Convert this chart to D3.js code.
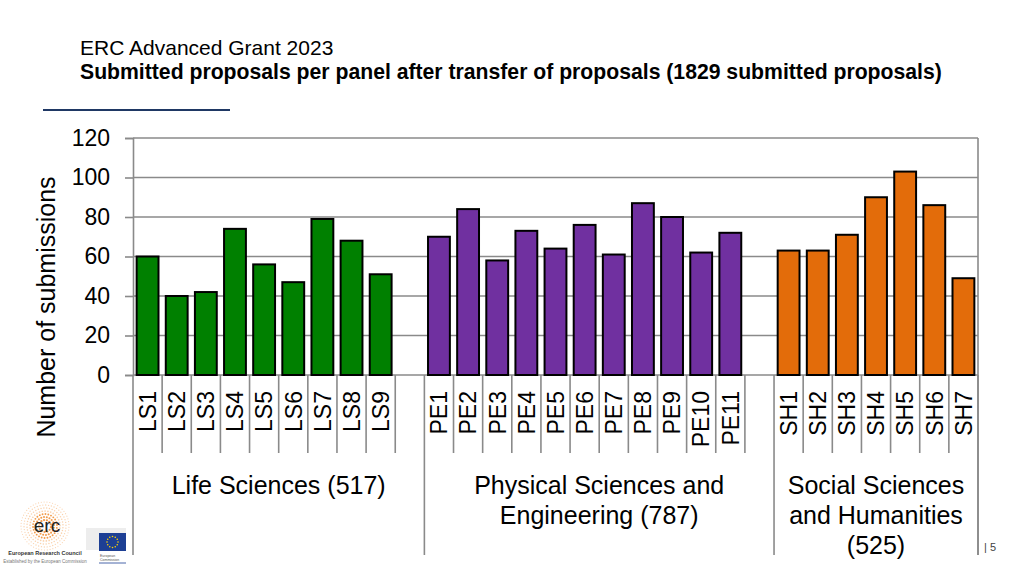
<!DOCTYPE html>
<html>
<head>
<meta charset="utf-8">
<script src="https://cdn.jsdelivr.net/npm/d3@7"></script>
<style>
  html, body { margin: 0; padding: 0; background: #fff; }
  svg { display: block; font-family: "Liberation Sans", Arial, sans-serif; }
</style>
</head>
<body>
<svg id="chart" width="1024" height="576"></svg>
<script>
// ---- Data ----
const lsPanels = ["LS1","LS2","LS3","LS4","LS5","LS6","LS7","LS8","LS9"];
const lsValues = [60, 40, 42, 74, 56, 47, 79, 68, 51];
const pePanels = ["PE1","PE2","PE3","PE4","PE5","PE6","PE7","PE8","PE9","PE10","PE11"];
const peValues = [70, 84, 58, 73, 64, 76, 61, 87, 80, 62, 72];
const shPanels = ["SH1","SH2","SH3","SH4","SH5","SH6","SH7"];
const shValues = [63, 63, 71, 90, 103, 86, 49];
const yTicks = [0, 20, 40, 60, 80, 100, 120];
const groupLabels = [
  ["Life Sciences (517)"],
  ["Physical Sciences and", "Engineering (787)"],
  ["Social Sciences", "and Humanities", "(525)"]
];
const groupColors = ["#008000", "#7030a0", "#e36c0a"];
const titleLine1 = "ERC Advanced Grant 2023";
const titleLine2 = "Submitted proposals per panel after transfer of proposals (1829 submitted proposals)";
const yTitle = "Number of submissions";

// ---- Build ----
const groups = [
  { panels: lsPanels, values: lsValues },
  { panels: pePanels, values: peValues },
  { panels: shPanels, values: shValues }
];
const domain = [];
const bars = [];
groups.forEach((g, gi) => {
  g.panels.forEach((p, i) => { domain.push(p); bars.push({ panel: p, value: g.values[i], group: gi }); });
  if (gi < groups.length - 1) domain.push("gap" + gi);
});

const svg = d3.select("#chart");
const pLeft = 133, pRight = 978, pTop = 138, pBottom = 375;

const x = d3.scaleBand().domain(domain).range([pLeft, pRight]).paddingInner(0.25).paddingOuter(0.125);
const y = d3.scaleLinear().domain([0, 120]).range([pBottom, pTop]);
const step = x.step();
const slotLeft = d => x(d) - step * 0.125;

// Title
svg.append("text").attr("x", 80).attr("y", 55).attr("font-size", 21).attr("fill", "#000").text(titleLine1);
svg.append("text").attr("x", 80).attr("y", 79).attr("font-size", 21.2).attr("font-weight", "bold").attr("fill", "#000").text(titleLine2);
svg.append("line").attr("x1", 43).attr("x2", 230).attr("y1", 110).attr("y2", 110)
  .attr("stroke", "#1f3864").attr("stroke-width", 2);

const gridColor = "#8a8a8a";

// Gridlines
svg.append("g").selectAll("line").data(yTicks).join("line")
  .attr("x1", pLeft).attr("x2", pRight)
  .attr("y1", d => y(d)).attr("y2", d => y(d))
  .attr("stroke", gridColor).attr("stroke-width", 1.6);

// Y axis
const yAxis = svg.append("g").attr("transform", `translate(${pLeft},0)`)
  .call(d3.axisLeft(y).tickValues(yTicks).tickSize(8).tickPadding(15));
yAxis.select(".domain").attr("stroke", gridColor).attr("stroke-width", 1.6);
yAxis.selectAll(".tick line").attr("stroke", gridColor).attr("stroke-width", 1.6);
yAxis.selectAll(".tick text").attr("font-size", 23).attr("fill", "#000")
  .attr("font-family", "'Liberation Sans', Arial, sans-serif");

// Right border
svg.append("line").attr("x1", pRight).attr("x2", pRight).attr("y1", pTop).attr("y2", 555)
  .attr("stroke", gridColor).attr("stroke-width", 1.6);

// Y title
svg.append("text")
  .attr("transform", `translate(55,${(pTop + 440) / 2 + 18}) rotate(-90)`)
  .attr("text-anchor", "middle").attr("font-size", 25).attr("fill", "#000")
  .text(yTitle);

// Bars
svg.append("g").selectAll("rect").data(bars).join("rect")
  .attr("x", d => x(d.panel))
  .attr("width", x.bandwidth())
  .attr("y", d => y(d.value))
  .attr("height", d => y(0) - y(d.value))
  .attr("fill", d => groupColors[d.group])
  .attr("stroke", "#000").attr("stroke-width", 2);

// Separators (category boundaries short, group boundaries long)
const longIdx = new Set();
let idx = 0;
longIdx.add(0);
groups.forEach((g, gi) => {
  idx += g.panels.length + (gi < groups.length - 1 ? 1 : 0);
  longIdx.add(idx);
});
const boundaries = d3.range(domain.length + 1).map(i => ({
  x: i < domain.length ? slotLeft(domain[i]) : pRight,
  long: longIdx.has(i)
}));
svg.append("g").selectAll("line").data(boundaries).join("line")
  .attr("x1", d => d.x).attr("x2", d => d.x)
  .attr("y1", pBottom).attr("y2", d => d.long ? 555 : 453)
  .attr("stroke", gridColor).attr("stroke-width", 1.6);

// Category labels
svg.append("g").selectAll("text").data(bars).join("text")
  .attr("transform", d => `translate(${x(d.panel) + x.bandwidth() / 2},391) rotate(-90)`)
  .attr("text-anchor", "end").attr("dy", "0.36em")
  .attr("font-size", 23).attr("fill", "#000")
  .text(d => d.panel);

// Group labels
const groupBounds = [];
let start = 0;
groups.forEach((g, gi) => {
  const n = g.panels.length + (gi < groups.length - 1 ? 1 : 0);
  const x0 = slotLeft(domain[start]);
  const x1 = start + n < domain.length ? slotLeft(domain[start + n]) : pRight;
  groupBounds.push({ cx: (x0 + x1) / 2, lines: groupLabels[gi] });
  start += n;
});
const gl = svg.append("g").selectAll("text").data(groupBounds).join("text")
  .attr("x", d => d.cx).attr("y", 494)
  .attr("text-anchor", "middle").attr("font-size", 25).attr("fill", "#000");
gl.selectAll("tspan").data(d => d.lines.map(l => ({ l, cx: d.cx }))).join("tspan")
  .attr("x", d => d.cx).attr("dy", (d, i) => i === 0 ? 0 : 30)
  .text(d => d.l);

// Page number
svg.append("text").attr("x", 984).attr("y", 551).attr("font-size", 11).attr("fill", "#444").text("| 5");

// ---- Logos (decorative) ----
const logo = svg.append("g");
const lcx = 45, lcy = 526;
for (let r = 6; r <= 24; r += 3) {
  const n = Math.round(r * 2.2);
  for (let k = 0; k < n; k++) {
    const a = (k / n) * Math.PI * 2 + r;
    logo.append("circle")
      .attr("cx", lcx + r * Math.cos(a)).attr("cy", lcy + r * Math.sin(a))
      .attr("r", 1.3 - r * 0.03)
      .attr("fill", r < 15 ? "#f08a2a" : "#f6b477").attr("opacity", r < 15 ? 0.85 : 0.6);
  }
}
logo.append("text").attr("x", lcx + 2).attr("y", lcy + 6).attr("text-anchor", "middle")
  .attr("font-size", 19).attr("fill", "#222").text("erc");
logo.append("text").attr("x", 45).attr("y", 555).attr("text-anchor", "middle")
  .attr("font-size", 5.5).attr("font-weight", "bold").attr("fill", "#333").text("European Research Council");
logo.append("text").attr("x", 45).attr("y", 563).attr("text-anchor", "middle")
  .attr("font-size", 4.5).attr("fill", "#777").text("Established by the European Commission");
logo.append("rect").attr("x", 86).attr("y", 528).attr("width", 40).attr("height", 22).attr("fill", "#e6e6e6").attr("opacity", 0.7);
logo.append("rect").attr("x", 99).attr("y", 533).attr("width", 27).attr("height", 18).attr("fill", "#1d3f94");
for (let k = 0; k < 12; k++) {
  const a = k / 12 * Math.PI * 2;
  logo.append("circle").attr("cx", 112.5 + 5.5 * Math.cos(a)).attr("cy", 542 + 5.5 * Math.sin(a))
    .attr("r", 0.8).attr("fill", "#ffd400");
}
logo.append("text").attr("x", 100).attr("y", 557).attr("font-size", 3.5).attr("fill", "#555").text("European");
logo.append("text").attr("x", 100).attr("y", 561).attr("font-size", 3.5).attr("fill", "#555").text("Commission");
logo.append("line").attr("x1", 99).attr("x2", 126).attr("y1", 563).attr("y2", 563).attr("stroke", "#1d3f94").attr("stroke-width", 0.8);
</script>
</body>
</html>
